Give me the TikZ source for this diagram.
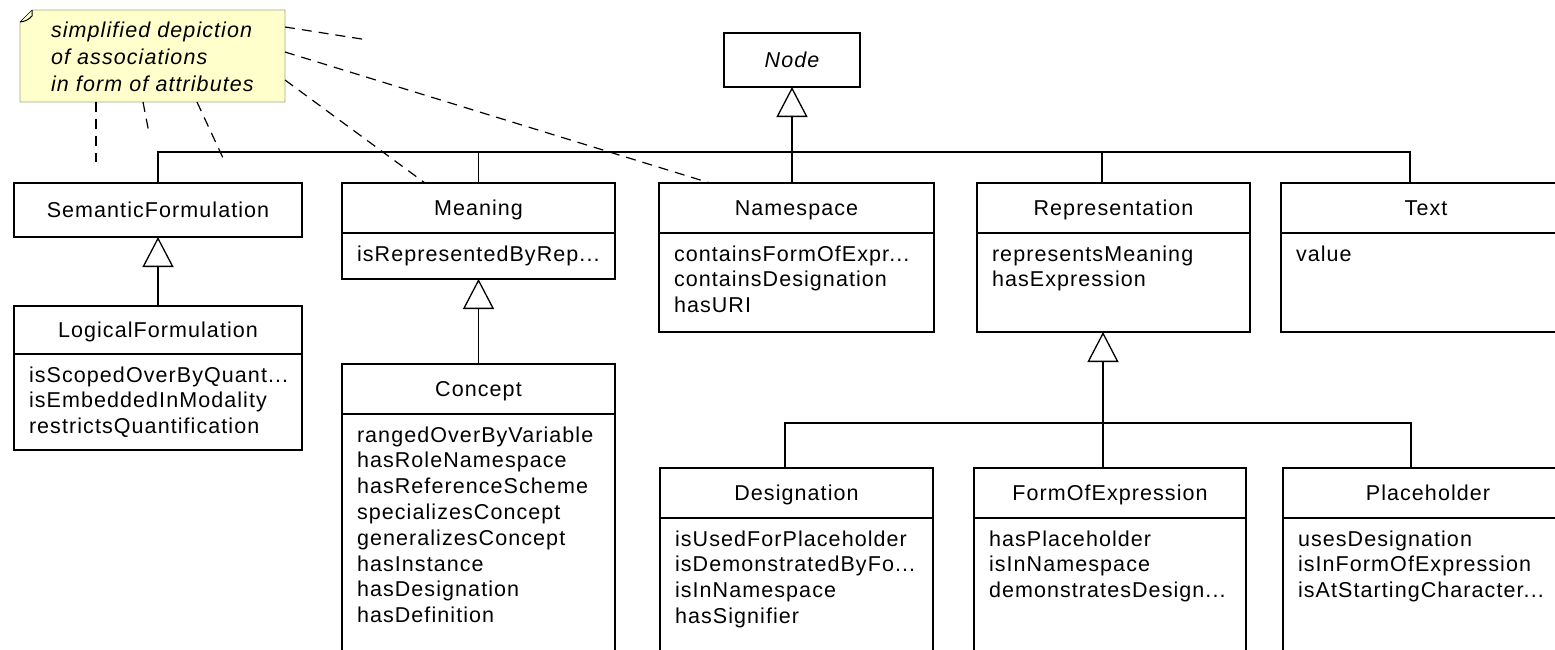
\documentclass[tikz,border=0pt]{standalone}
\usepackage{fontspec}
\newfontfamily\classfont{Liberation Sans}[LetterSpace=5]
\newcommand{\umlfont}{\classfont\fontsize{21.5}{25.8}\selectfont}
\usetikzlibrary{positioning,arrows.meta,backgrounds}
\definecolor{notefill}{RGB}{255,255,204}
\hyphenpenalty=10000
\exhyphenpenalty=10000

\begin{document}
\begin{tikzpicture}[x=1pt, y=-1pt, line width=1.3pt, font=\umlfont,
    namebox/.style={draw, anchor=north west, minimum width=#1, minimum height=50pt, inner sep=0pt, outer sep=0pt, text height=15.5pt, text depth=0pt},
    namebox/.default=273pt,
    attrbox/.style={draw, anchor=north, align=left, text width=#1-30pt, inner xsep=15pt, inner ysep=0pt, outer sep=0pt, text height=28pt},
    attrbox/.default=273pt,
    notebox/.style={anchor=north west, align=left, text width=203pt, inner xsep=31pt, inner ysep=0pt, outer sep=0pt, text height=27pt, text depth=65pt, font=\classfont\itshape\fontsize{21.5}{27}\selectfont},
    notebg/.style={draw, fill=notefill},
    inherit/.style={-{Triangle[open, width=31pt, length=30pt]}},
    notelink/.style={line width=1.2pt, dash pattern=on 10pt off 7pt}]
    \useasboundingbox (0,0) rectangle (1555,649);
    \clip (0,0) rectangle (1555,649);

    % note
    \node(note) [notebox] at (20,10) {simplified~depiction\\of~associations\\in~form~of~attributes};
    \begin{scope}[on background layer]
        \draw[notebg] ([yshift=-12pt]note.north west) -- ([xshift=12pt]note.north west) -- (note.north east) -- (note.south east) -- (note.south west) -- cycle;
    \end{scope}
    \draw[line width=1pt] ([xshift=12pt]note.north west) -- ([xshift=12pt, yshift=-6pt]note.north west) to[bend left=20] ([yshift=-12pt]note.north west);

    % classes
    \node(nodecls) [namebox=136pt, minimum height=54pt, font=\umlfont\itshape] at (724,33) {Node};
    \node(sem) [namebox=288pt, minimum height=54pt] at (14,183) {SemanticFormulation};
    \node(logic) [namebox=288pt, minimum height=48pt] at (14,306) {LogicalFormulation};
    \node(logicattr) [attrbox=288pt, below=0pt of logic, text depth=68pt] {isScopedOverByQuant...\\isEmbeddedInModality\\restrictsQuantification};
    \node(mean) [namebox] at (342,183) {Meaning};
    \node(meanattr) [attrbox, below=0pt of mean, text depth=18pt] {isRepresentedByRep...};
    \node(concept) [namebox] at (342,364) {Concept};
    \node(conceptattr) [attrbox, below=0pt of concept, text depth=300pt] {rangedOverByVariable\\hasRoleNamespace\\hasReferenceScheme\\specializesConcept\\generalizesConcept\\hasInstance\\hasDesignation\\hasDefinition};
    \node(ns) [namebox=275pt] at (659,183) {Namespace};
    \node(nsattr) [attrbox=275pt, below=0pt of ns, text depth=71pt] {containsFormOfExpr...\\containsDesignation\\hasURI};
    \node(repr) [namebox] at (977,183) {Representation};
    \node(reprattr) [attrbox, below=0pt of repr, text depth=71pt] {representsMeaning\\hasExpression};
    \node(txt) [namebox=290pt] at (1281,183) {Text};
    \node(txtattr) [attrbox=290pt, below=0pt of txt, text depth=71pt] {value};
    \node(desig) [namebox] at (660,468) {Designation};
    \node(desigattr) [attrbox, below=0pt of desig, text depth=300pt] {isUsedForPlaceholder\\isDemonstratedByFo...\\isInNamespace\\hasSignifier};
    \node(form) [namebox=272pt] at (974,468) {FormOfExpression};
    \node(formattr) [attrbox=272pt, below=0pt of form, text depth=300pt] {hasPlaceholder\\isInNamespace\\demonstratesDesign...};
    \node(place) [namebox=290pt] at (1283,468) {Placeholder};
    \node(placeattr) [attrbox=290pt, below=0pt of place, text depth=300pt] {usesDesignation\\isInFormOfExpression\\isAtStartingCharacter...};

    % generalizations
    \coordinate(hub) at (792,152);
    \draw[inherit] (ns.north -| hub) -- (nodecls.south);
    \draw (sem.north) |- (hub);
    \draw (mean.north) |- (hub);
    \draw (repr.north -| 1102,0) |- (hub);
    \draw (txt.north -| 1410,0) |- (hub);
    \draw[inherit] (logic.north) -- (sem.south);
    \draw[inherit] (concept.north) -- (meanattr.south);
    \coordinate(hub2) at (1103,423);
    \draw[inherit] (hub2) -- (reprattr.south -| hub2);
    \draw (desig.north -| 785,0) |- (hub2);
    \draw (form.north -| hub2) -- (hub2);
    \draw (place.north -| 1411,0) |- (hub2);

    % note links
    \coordinate(free1) at (368,40);
    \coordinate(free2) at (96,162);
    \coordinate(free3) at (149,133);
    \coordinate(free4) at (223,158);
    \draw[notelink] ([yshift=-17pt]note.north east) -- (free1);
    \draw[notelink] ([yshift=-42pt]note.north east) -- ([xshift=51pt]ns.north west);
    \draw[notelink] ([yshift=-70pt]note.north east) -- ([xshift=83pt]mean.north west);
    \draw[notelink] ([xshift=76pt]note.south west) -- (free2);
    \draw[notelink] ([xshift=123pt]note.south west) -- (free3);
    \draw[notelink] ([xshift=177pt]note.south west) -- (free4);
\end{tikzpicture}
\end{document}
